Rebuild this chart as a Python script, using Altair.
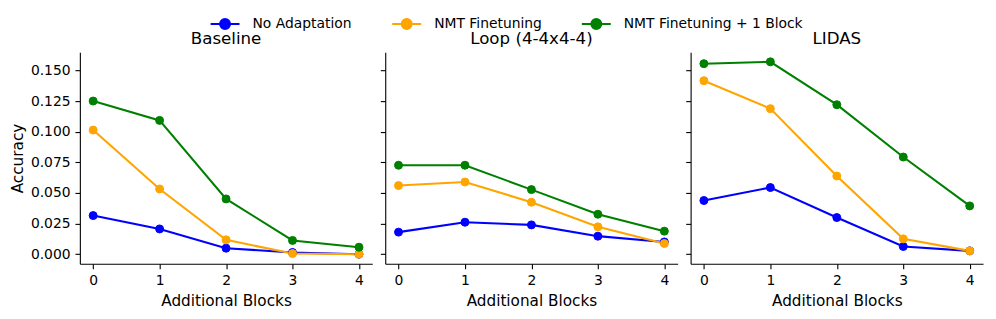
import altair as alt
import pandas as pd

blocks = [0, 1, 2, 3, 4]
methods = ["No Adaptation", "NMT Finetuning", "NMT Finetuning + 1 Block"]
colors = ["#0000ff", "#ffa500", "#008000"]
panels = ["Baseline", "Loop (4-4x4-4)", "LIDAS"]

baseline_no = [0.0315, 0.0206, 0.0049, 0.0014, 0.0000]
baseline_nmt = [0.1013, 0.0532, 0.0117, 0.0005, 0.0000]
baseline_nmt1 = [0.1250, 0.1092, 0.0451, 0.0112, 0.0057]
loop_no = [0.0180, 0.0261, 0.0239, 0.0147, 0.0100]
loop_nmt = [0.0560, 0.0589, 0.0424, 0.0223, 0.0087]
loop_nmt1 = [0.0726, 0.0726, 0.0527, 0.0326, 0.0188]
lidas_no = [0.0438, 0.0544, 0.0299, 0.0063, 0.0027]
lidas_nmt = [0.1416, 0.1188, 0.0638, 0.0125, 0.0027]
lidas_nmt1 = [0.1555, 0.1570, 0.1220, 0.0793, 0.0394]

y_ticks = [0.0, 0.025, 0.05, 0.075, 0.1, 0.125, 0.15]

series = {
    "Baseline": [baseline_no, baseline_nmt, baseline_nmt1],
    "Loop (4-4x4-4)": [loop_no, loop_nmt, loop_nmt1],
    "LIDAS": [lidas_no, lidas_nmt, lidas_nmt1],
}

rows = []
for p in panels:
    for m, vals in zip(methods, series[p]):
        for b, v in zip(blocks, vals):
            rows.append({"panel": p, "method": m, "blocks": b, "acc": v})
df = pd.DataFrame(rows)

FONT = "DejaVu Sans"
SYM = "M-2,0H2M0.68,0A0.68,0.68,0,1,1,-0.68,0A0.68,0.68,0,1,1,0.68,0Z"

legend = alt.Legend(
    orient="none", legendX=137, legendY=-37, direction="horizontal",
    title=None, symbolType=SYM, symbolSize=210, symbolStrokeWidth=2.1,
    symbolOpacity=1, labelOffset=19, columnPadding=35, padding=0,
    labelFontSize=13.9, labelFont=FONT, labelColor="black", labelLimit=400,
)
sc = alt.Scale(domain=methods, range=colors)


def panel(name, first):
    d = df[df.panel == name]
    x = alt.X("blocks:Q",
              scale=alt.Scale(domain=[-0.2, 4.2], nice=False, zero=False),
              axis=alt.Axis(values=blocks, format="d", title="Additional Blocks",
                            grid=False, titlePadding=6))
    if first:
        yax = alt.Axis(values=y_ticks, format=".3f", title="Accuracy", grid=False)
    else:
        yax = alt.Axis(values=y_ticks, labels=False, title=None, grid=False)
    y = alt.Y("acc:Q",
              scale=alt.Scale(domain=[-0.00785, 0.16485], nice=False, zero=False),
              axis=yax)
    line = alt.Chart(d).mark_line(strokeWidth=2.1).encode(
        x=x, y=y,
        stroke=alt.Stroke("method:N", scale=sc, legend=legend),
        detail="method:N",
    )
    pts = alt.Chart(d).mark_point(filled=True, size=64, opacity=1, strokeWidth=1).encode(
        x=x, y=y,
        fill=alt.Fill("method:N", scale=sc, legend=legend),
        stroke=alt.Stroke("method:N", scale=sc, legend=legend),
    )
    return alt.layer(line, pts).properties(
        width=293, height=212,
        title=alt.TitleParams(name, fontSize=16.7, font=FONT, fontWeight="normal",
                              color="black", offset=5, anchor="middle"),
    )


chart = alt.hconcat(
    panel("Baseline", True), panel("Loop (4-4x4-4)", False), panel("LIDAS", False),
    spacing=13, bounds="flush",
).configure(
    font=FONT, padding={"left": 2, "top": 7, "right": 5, "bottom": 5}
).configure_view(stroke=None).configure_axis(
    domainColor="black", domainWidth=1.1, tickColor="black", tickWidth=1.1,
    tickSize=4.9, labelFontSize=13.9, labelColor="black", labelPadding=4.9,
    titleFontSize=15.3, titleFontWeight="normal", titleColor="black",
    labelFont=FONT, titleFont=FONT, titlePadding=5,
)

chart.save("out.html", embed_options={"renderer": "svg", "actions": False})
